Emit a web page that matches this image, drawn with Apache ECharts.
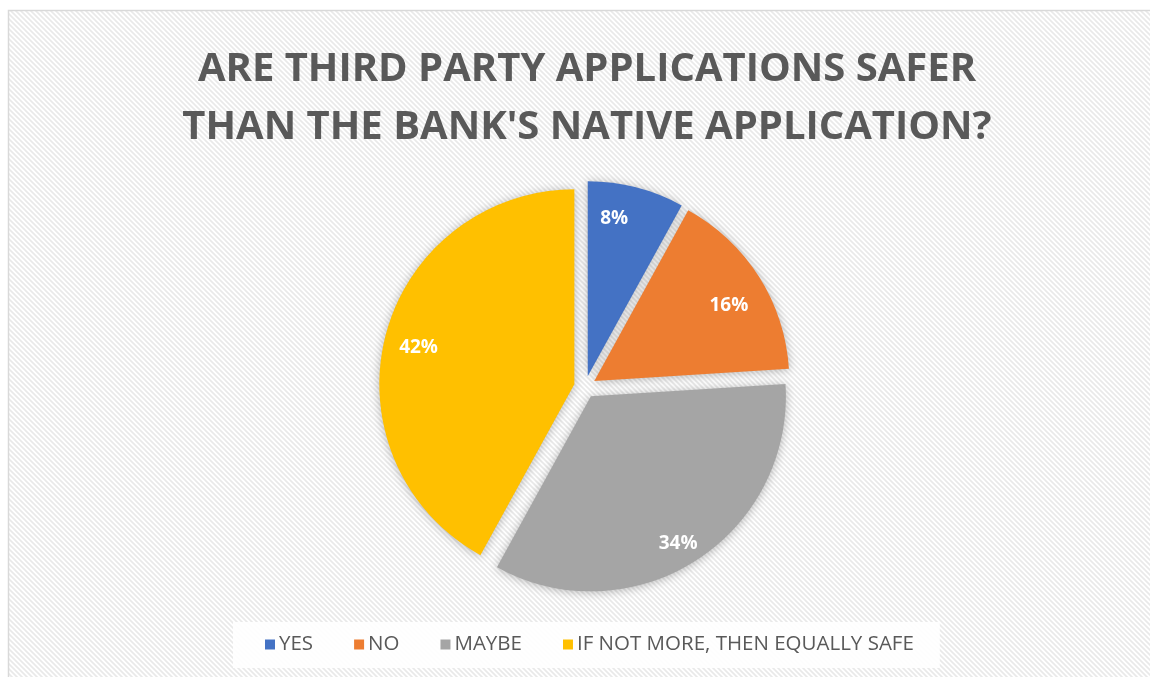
<!DOCTYPE html>
<html>
<head>
<meta charset="utf-8">
<script src="https://cdn.jsdelivr.net/npm/echarts@6/dist/echarts.min.js"></script>
<style>
  html, body { margin: 0; padding: 0; background: #ffffff; }
  #chart { width: 1150px; height: 677px; }
</style>
</head>
<body>
<div id="chart"></div>
<script>
// Survey answers and their shares (percent)
const categories = ['YES', 'NO', 'MAYBE', 'IF NOT MORE, THEN EQUALLY SAFE'];
const shares = [8, 16, 34, 42];
const colors = ['#4472C4', '#ED7D31', '#A5A5A5', '#FFC000'];
const titleLines = ['ARE THIRD PARTY APPLICATIONS SAFER', "THAN THE BANK'S NATIVE APPLICATION?"];

// Light diagonal stripe texture for the chart area
function stripeTile() {
  const c = document.createElement('canvas');
  c.width = 5; c.height = 5;
  const g = c.getContext('2d');
  g.fillStyle = '#ffffff';
  g.fillRect(0, 0, 5, 5);
  g.strokeStyle = '#e9e9e9';
  g.lineWidth = 1.6;
  g.beginPath();
  g.moveTo(-1, -1); g.lineTo(6, 6);
  g.moveTo(-6, -1); g.lineTo(1, 6);
  g.moveTo(4, -1); g.lineTo(11, 6);
  g.stroke();
  return c;
}

const FONT = "'Open Sans', 'Noto Sans', sans-serif";
const CX = 585, CY = 387, R = 195;

// horizontal nudge (via asymmetric padding) and downward shift (via a spacer line)
const labelPad = [[0, 28, 0, 0], [0, 6, 0, 0], [0, 0, 0, 0], [0, 0, 0, 4]];
const labelDrop = [0, 24, 20, 8];

const chart = echarts.init(document.getElementById('chart'), null, { renderer: 'canvas' });

const pieData = categories.map((name, i) => ({
  name: name,
  value: shares[i],
  selected: true,
  itemStyle: { color: colors[i] }
}));

const labelData = categories.map((name, i) => ({
  name: name,
  value: shares[i],
  selected: true,
  label: { padding: labelPad[i] }
}));

chart.setOption({
  animation: false,
  backgroundColor: '#ffffff',
  graphic: [{
    type: 'rect',
    z: -10,
    silent: true,
    shape: { x: 8.5, y: 10.5, width: 1160, height: 700 },
    style: {
      fill: { image: stripeTile(), repeat: 'repeat' },
      stroke: '#d9d9d9',
      lineWidth: 1.5
    }
  }],
  title: {
    text: titleLines.join('\n'),
    left: 582,
    textAlign: 'center',
    top: 36,
    textStyle: {
      fontFamily: FONT,
      fontWeight: 'bold',
      fontSize: 40,
      lineHeight: 58,
      color: '#595959'
    }
  },
  legend: {
    top: 622,
    left: 233,
    padding: [12, 26, 13, 32],
    backgroundColor: 'rgba(255,255,255,0.9)',
    itemWidth: 10,
    itemHeight: 10,
    itemGap: 41,
    icon: 'rect',
    selectedMode: false,
    textStyle: { fontFamily: FONT, fontSize: 20.5, color: '#595959', padding: [0, 0, 0, -1] },
    data: categories.map((name, i) => ({ name: name, itemStyle: { color: colors[i] } }))
  },
  series: [
    {
      type: 'pie',
      center: [CX, CY],
      radius: [0, R],
      startAngle: 90,
      clockwise: true,
      selectedMode: 'multiple',
      selectedOffset: 11,
      silent: true,
      label: { show: false },
      labelLine: { show: false },
      itemStyle: {
        shadowBlur: 10,
        shadowColor: 'rgba(0,0,0,0.28)',
        shadowOffsetX: 0,
        shadowOffsetY: 1
      },
      select: { itemStyle: { shadowBlur: 10, shadowColor: 'rgba(0,0,0,0.28)' } },
      data: pieData
    },
    {
      // transparent ring used only to place the percentage labels further out
      type: 'pie',
      center: [CX, CY],
      radius: [R * 0.64, R],
      startAngle: 90,
      clockwise: true,
      selectedMode: 'multiple',
      selectedOffset: 11,
      silent: true,
      itemStyle: { color: 'rgba(0,0,0,0)' },
      select: { itemStyle: { color: 'rgba(0,0,0,0)' } },
      label: {
        show: true,
        position: 'inside',
        formatter: p => labelDrop[p.dataIndex] > 0
          ? '{gap' + p.dataIndex + '| }\n{v|' + p.value + '%}'
          : '{v|' + p.value + '%}',
        rich: {
          v: { color: '#ffffff', fontFamily: FONT, fontWeight: 'bold', fontSize: 19, lineHeight: 26 },
          gap1: { fontSize: 2, lineHeight: labelDrop[1] },
          gap2: { fontSize: 2, lineHeight: labelDrop[2] },
          gap3: { fontSize: 2, lineHeight: labelDrop[3] }
        }
      },
      labelLine: { show: false },
      data: labelData
    }
  ]
});
</script>
</body>
</html>
